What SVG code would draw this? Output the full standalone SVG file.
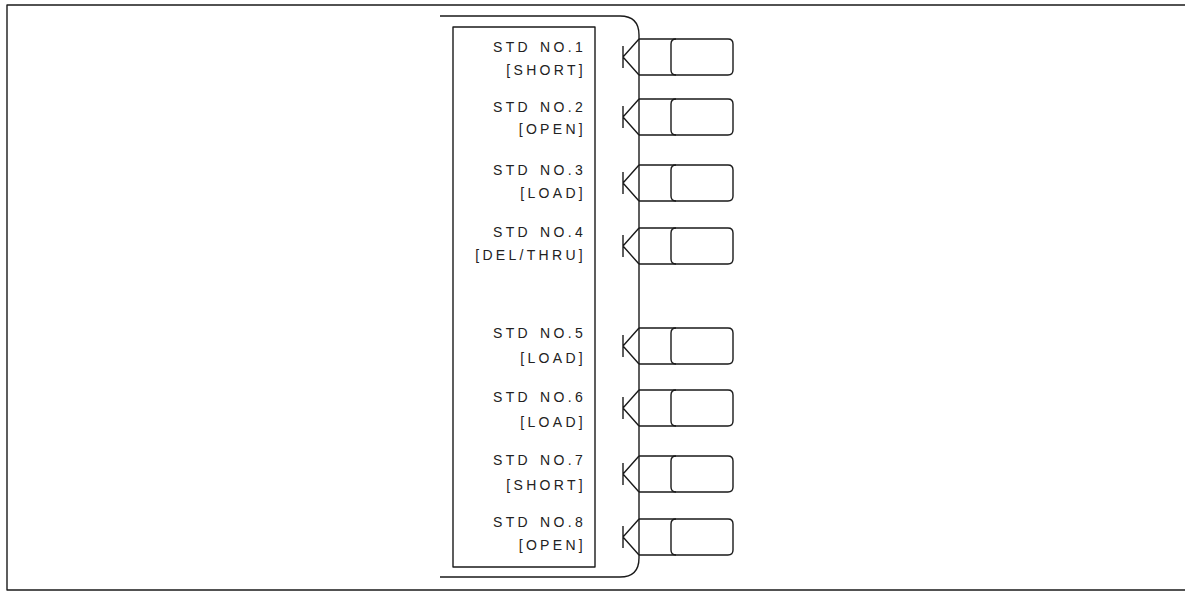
<svg xmlns="http://www.w3.org/2000/svg" width="1185" height="592" viewBox="0 0 1185 592">
<style>
.ln{fill:none;stroke:#1a1a1a;stroke-width:1.4;stroke-linejoin:round}
.t{font-family:"Liberation Sans",Arial,sans-serif;font-size:14px;fill:#222;letter-spacing:3.3px;word-spacing:2px;text-anchor:end}
</style>
<defs>
<g id="plug">
<path class="ln" d="M623,7 V29 M623,18 L639,0 M623,18 L639,36"/>
<path class="ln" d="M639,0 H728 Q733,0 733,5 V31 Q733,36 728,36 H639"/>
<path class="ln" d="M676,0 Q671,0 671,5 V31 Q671,36 676,36"/>
</g>
</defs>
<g id="frame">
<path class="ln" d="M1185,5 H7 V590 H1185"/>
</g>
<g id="panel">
<path class="ln" d="M440,16 H620 Q639,16 639,35 V558 Q639,577 620,577 H440"/>
<rect class="ln" x="453" y="27" width="142" height="540"/>
</g>
<g id="connectors">
<use href="#plug" y="39"/>
<use href="#plug" y="99"/>
<use href="#plug" y="165"/>
<use href="#plug" y="228"/>
<use href="#plug" y="328"/>
<use href="#plug" y="390"/>
<use href="#plug" y="456"/>
<use href="#plug" y="519"/>
</g>
<g id="std1"><text class="t" x="586" y="52">STD NO.1</text><text class="t" x="586" y="75">[SHORT]</text></g>
<g id="std2"><text class="t" x="586" y="112">STD NO.2</text><text class="t" x="586" y="134">[OPEN]</text></g>
<g id="std3"><text class="t" x="586" y="175">STD NO.3</text><text class="t" x="586" y="198">[LOAD]</text></g>
<g id="std4"><text class="t" x="586" y="237">STD NO.4</text><text class="t" x="586" y="260">[DEL/THRU]</text></g>
<g id="std5"><text class="t" x="586" y="338">STD NO.5</text><text class="t" x="586" y="363">[LOAD]</text></g>
<g id="std6"><text class="t" x="586" y="402">STD NO.6</text><text class="t" x="586" y="427">[LOAD]</text></g>
<g id="std7"><text class="t" x="586" y="465">STD NO.7</text><text class="t" x="586" y="490">[SHORT]</text></g>
<g id="std8"><text class="t" x="586" y="527">STD NO.8</text><text class="t" x="586" y="550">[OPEN]</text></g>
</svg>
